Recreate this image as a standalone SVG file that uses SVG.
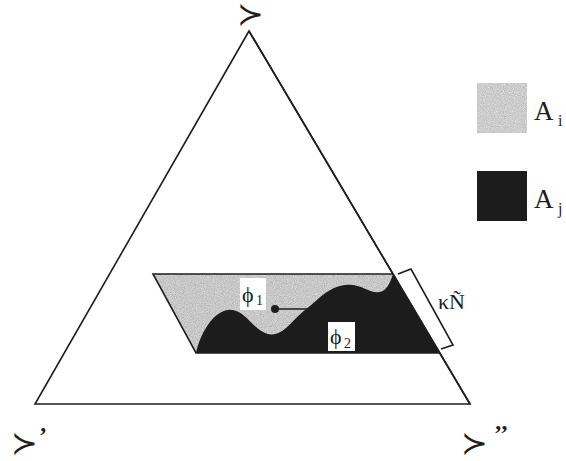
<svg xmlns="http://www.w3.org/2000/svg" width="566" height="461" viewBox="0 0 566 461">
<defs>
<filter id="speck" x="0" y="0" width="100%" height="100%" color-interpolation-filters="sRGB">
<feTurbulence type="fractalNoise" baseFrequency="0.9" numOctaves="2" seed="4" result="n"/>
<feColorMatrix in="n" type="matrix" values="0.33 0.33 0.33 0 0  0.33 0.33 0.33 0 0  0.33 0.33 0.33 0 0  0 0 0 0 1" result="g"/>
<feComposite in="SourceGraphic" in2="g" operator="arithmetic" k1="0" k2="1" k3="0.45" k4="-0.225" result="m"/>
<feComposite in="m" in2="SourceGraphic" operator="in"/>
</filter>
</defs>
<style>
.edge{fill:none;stroke:#1e1e1e;stroke-width:1.6;stroke-linejoin:miter}
.light{fill:#c8c8c8;filter:url(#speck)}
.dark{fill:#1c1c1c}
.sym{font-family:"DejaVu Sans",sans-serif;font-size:32px;fill:#1e1e1e}
.serif{font-family:"Liberation Serif","DejaVu Serif",serif;fill:#1e1e1e}
.box{fill:#ffffff}
</style>
<rect width="566" height="461" fill="#ffffff"/>
<g id="triangle">
<polygon class="edge" points="249,31 35,404 470,404"/>
</g>
<g id="band">
<polygon class="light" points="153,274 393,274 440,353 196,353"/>
<path class="dark" d="M196,353 C200,335 212,312 228,310 C245,308 252,330 268,334 C283,337 290,322 305,310 C318,300 328,287 345,285 C362,283 368,294 380,292 C388,290 391,280 393,274 L440,353 Z"/>
<polyline class="edge" points="393,274 153,274 196,353 440,353"/>
<line class="edge" x1="249" y1="31" x2="470" y2="404"/>
</g>
<g id="phi1">
<rect class="box" x="240" y="278" width="26" height="32"/>
<text class="serif" x="242" y="302" font-size="22">ϕ</text>
<text class="serif" x="256" y="305" font-size="14">1</text>
</g>
<g id="phi2">
<rect class="box" x="328" y="322" width="27" height="29"/>
<text class="serif" x="330" y="344" font-size="22">ϕ</text>
<text class="serif" x="344" y="348" font-size="14">2</text>
</g>
<g id="connectors">
<line x1="275" y1="309" x2="326" y2="309" stroke="#1e1e1e" stroke-width="1.6"/>
<circle cx="275" cy="309" r="4" fill="#1e1e1e"/>
</g>
<g id="bracket">
<polyline class="edge" points="398,274 411,269 453,345 441,349"/>
<text class="serif" x="438" y="309" font-size="22">κÑ</text>
</g>
<g id="legend-i">
<rect class="light" x="477" y="83" width="50" height="50" style="fill:#cdcdcd"/>
<text class="serif" x="534" y="120" font-size="27">A</text>
<text class="serif" x="558" y="126" font-size="16">i</text>
</g>
<g id="legend-j">
<rect class="dark" x="477" y="171" width="50" height="50"/>
<text class="serif" x="534" y="208" font-size="27">A</text>
<text class="serif" x="558" y="214" font-size="16">j</text>
</g>
<g id="label-top">
<text class="sym" x="237" y="25">≻</text>
</g>
<g id="label-left">
<text class="sym" x="11" y="454">≻</text>
<text class="serif" x="39" y="443" font-size="24" font-weight="bold">’</text>
</g>
<g id="label-right">
<text class="sym" x="461" y="454">≻</text>
<text class="serif" x="494" y="441" font-size="24" font-weight="bold">’’</text>
</g>
</svg>
